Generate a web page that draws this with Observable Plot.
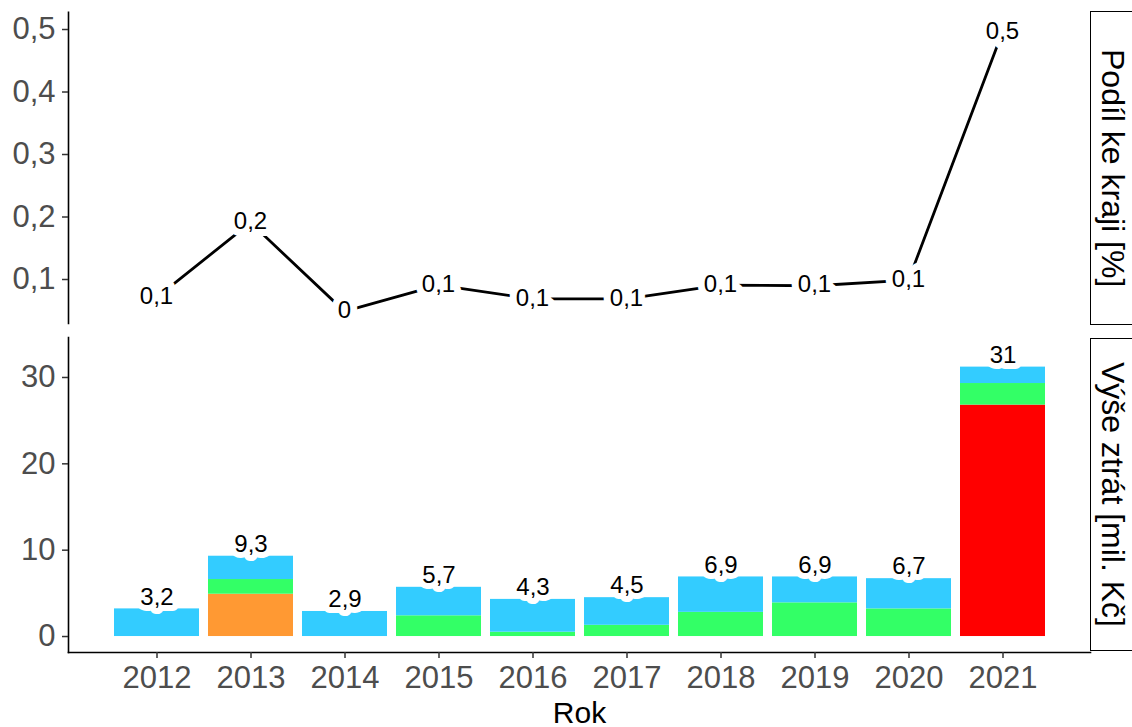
<!DOCTYPE html>
<html>
<head>
<meta charset="utf-8">
<script src="https://cdn.jsdelivr.net/npm/d3@7"></script>
<script src="https://cdn.jsdelivr.net/npm/@observablehq/plot@0.6"></script>
<style>
  html, body { margin: 0; padding: 0; background: #fff; }
  #chart { position: relative; width: 1132px; height: 727px; overflow: hidden; background: #fff;
           font-family: "Liberation Sans", Arial, sans-serif; }
  #chart svg { position: absolute; left: 0; }
  .strip { position: absolute; left: 1090px; width: 60px; border: 1.6px solid #000; background: #fff;
           box-sizing: border-box; }
  .strip span { position: absolute; left: 4px; width: 36px; top: 0; bottom: 0;
                writing-mode: vertical-rl; text-align: center; font-size: 32px; color: #000;
                line-height: 36px; }
</style>
</head>
<body>
<div id="chart"></div>
<script>
// ---- data ----
const years = [2012, 2013, 2014, 2015, 2016, 2017, 2018, 2019, 2020, 2021];
// share of the region [%]
const podil = [0.071, 0.191, 0.049, 0.091, 0.069, 0.069, 0.091, 0.090, 0.099, 0.496];
// losses [mil. Kč] by category (stacked bottom -> top)
const katNames = ["A", "B", "C", "D"];
const katColors = ["#FF0000", "#FF9933", "#33FF66", "#33CCFF"];
const katRed    = [0, 0, 0, 0, 0, 0, 0, 0, 0, 26.8];
const katOrange = [0, 4.9, 0, 0, 0, 0, 0, 0, 0, 0];
const katGreen  = [0, 1.7, 0, 2.4, 0.5, 1.3, 2.8, 3.9, 3.2, 2.5];
const katBlue   = [3.2, 2.7, 2.9, 3.3, 3.8, 3.2, 4.1, 3.0, 3.5, 1.9];
const totalLabels = ["3,2", "9,3", "2,9", "5,7", "4,3", "4,5", "6,9", "6,9", "6,7", "31"];
const podilTicks = [0.1, 0.2, 0.3, 0.4, 0.5];
const ztratyTicks = [0, 10, 20, 30];
const stripTop = "Podíl ke kraji [%]";
const stripBottom = "Výše ztrát [mil. Kč]";
const xTitle = "Rok";

// ---- derived tables ----
const topData = years.map((y, i) => ({year: String(y), podil: podil[i]}));
const katSeries = [katRed, katOrange, katGreen, katBlue];
const bars = [];
katSeries.forEach((s, k) => s.forEach((v, i) => bars.push({year: String(years[i]), kat: katNames[k], value: v})));
const totals = years.map((y, i) => ({year: String(y), total: katSeries.reduce((a, s) => a + s[i], 0), label: totalLabels[i]}));

const comma = d => String(d).replace(".", ",");
const round1 = d => comma(Math.round(d * 10) / 10);
const font = '"Liberation Sans", Arial, sans-serif';
const W = 1132, ML = 68, MR = 42;
const xDom = years.map(String);

const topPlot = Plot.plot({
  width: W, height: 335,
  marginTop: 11.7, marginBottom: 12, marginLeft: ML, marginRight: MR,
  style: {fontFamily: font, background: "transparent", overflow: "visible"},
  x: {type: "point", domain: xDom, padding: 0.936, axis: null},
  y: {domain: [0.0296, 0.5277], axis: null},
  marks: [
    Plot.frame({anchor: "left", stroke: "#000", strokeWidth: 1.6}),
    Plot.axisY({ticks: podilTicks, tickFormat: comma, tickSize: 6, tickPadding: 7, fontSize: 31,
                fill: "#4D4D4D", stroke: "#333", strokeWidth: 1.5, label: null}),
    Plot.line(topData, {x: "year", y: "podil", stroke: "#000", strokeWidth: 2.8}),
    Plot.text(topData, {x: "year", y: "podil", text: d => round1(d.podil), fontSize: 24, fill: "#000",
                        stroke: "#fff", strokeWidth: 14, strokeLinejoin: "round", dy: -1})
  ]
});
topPlot.style.top = "0px";

const bottomPlot = Plot.plot({
  width: W, height: 392,
  marginTop: 2, marginBottom: 75, marginLeft: ML, marginRight: MR,
  style: {fontFamily: font, background: "transparent", overflow: "visible"},
  x: {type: "band", domain: xDom, paddingInner: 0.1, paddingOuter: 0.485, axis: null},
  y: {domain: [-1.85, 34.63], axis: null},
  color: {domain: katNames, range: katColors},
  marks: [
    Plot.barY(bars, Plot.stackY({x: "year", y: "value", fill: "kat", order: katNames})),
    Plot.frame({anchor: "left", stroke: "#000", strokeWidth: 1.6}),
    Plot.frame({anchor: "bottom", stroke: "#000", strokeWidth: 1.6}),
    Plot.axisY({ticks: ztratyTicks, tickSize: 6, tickPadding: 7, fontSize: 31,
                fill: "#4D4D4D", stroke: "#333", strokeWidth: 1.5, label: null}),
    Plot.axisX({tickSize: 6, tickPadding: 7, fontSize: 31, fill: "#4D4D4D", stroke: "#333",
                strokeWidth: 1.5, label: null}),
    Plot.text(totals, {x: "year", y: "total", text: "label", dy: -12, fontSize: 24, fill: "#000",
                       stroke: "#fff", strokeWidth: 12, strokeLinejoin: "round"}),
    Plot.text([xTitle], {frameAnchor: "bottom", dy: 70, fontSize: 30, fill: "#000"})
  ]
});
bottomPlot.style.top = "335px";

const chart = document.getElementById("chart");
chart.appendChild(topPlot);
chart.appendChild(bottomPlot);

function strip(label, t, h) {
  const d = document.createElement("div");
  d.className = "strip";
  d.style.top = t + "px";
  d.style.height = h + "px";
  const s = document.createElement("span");
  s.textContent = label;
  d.appendChild(s);
  chart.appendChild(d);
}
strip(stripTop, 11, 314);
strip(stripBottom, 338, 313);
</script>
</body>
</html>
